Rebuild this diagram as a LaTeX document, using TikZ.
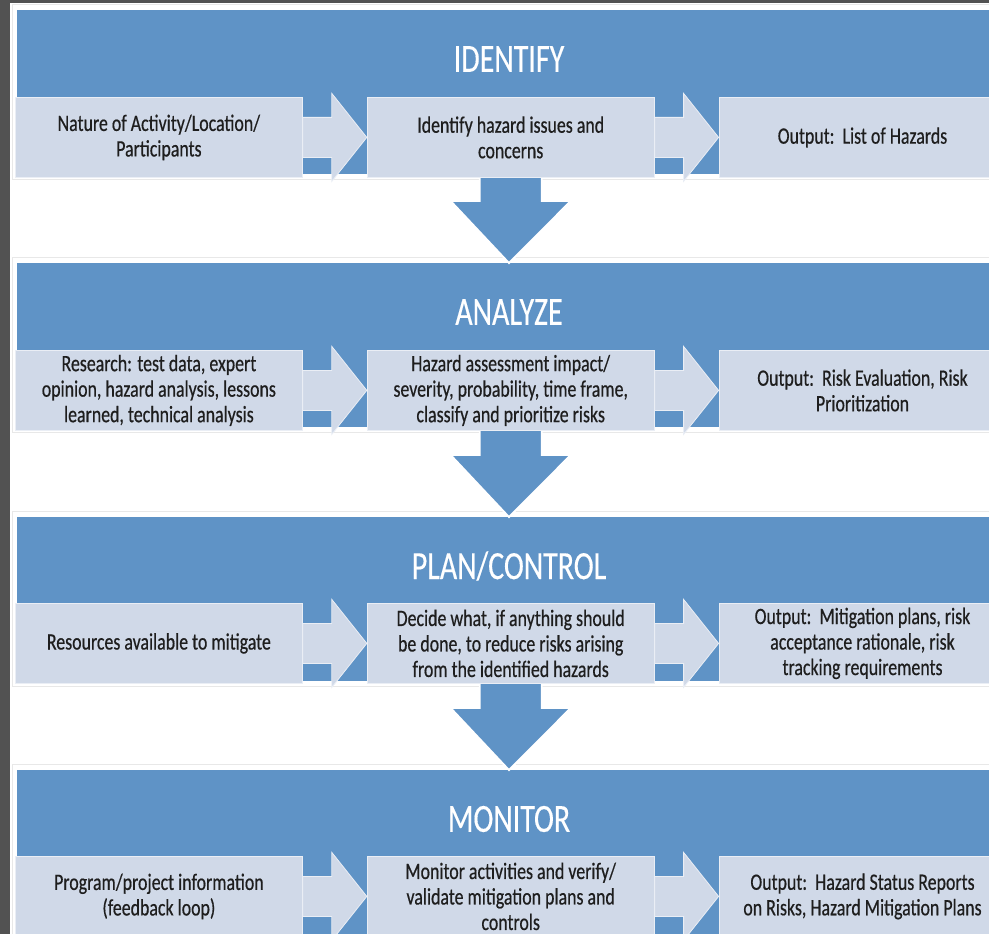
\documentclass[tikz,border=0pt]{standalone}
\usepackage{fontspec}
\setmainfont{Carlito}
\newfontfamily\boxfont[FakeStretch=0.76,FakeBold=0.5]{Carlito}
\newfontfamily\titlefont[FakeStretch=0.75,FakeBold=0.3]{Carlito}
\usetikzlibrary{positioning,calc}
\definecolor{bandblue}{RGB}{95,147,198}
\definecolor{boxgray}{RGB}{208,217,232}
\definecolor{textdark}{RGB}{30,30,30}
\definecolor{edgegray}{RGB}{82,82,82}
\pgfdeclarelayer{panels}
\pgfdeclarelayer{arrows}
\pgfsetlayers{panels,arrows,main}

\begin{document}
\begin{tikzpicture}[x=1pt,y=-1pt]
		\tikzset{
			band/.style={fill=bandblue},
			stepbox/.style={fill=boxgray, draw=white!55!boxgray, line width=0.8pt,
				minimum width=287pt, minimum height=80pt, inner sep=0pt, align=center,
				text=textdark, font=\boxfont\fontsize{23.5}{25.5}\selectfont},
			steptitle/.style={text=white, font=\titlefont\fontsize{40}{40}\selectfont},
			blockarrow/.style={fill=boxgray, draw=white!55!boxgray, line width=0.8pt},
			downarrow/.style={fill=bandblue, draw=white, line width=1.8pt}
		}
		\clip (0,0) rectangle (989,934);
		% the four stages
		\begin{pgfonlayer}{panels}
		\fill[edgegray] (0,0) rectangle (989,934);
		\fill[white] (10,3) rectangle (989,934);
		\foreach \y/\t [count=\k] in {10/IDENTIFY,263/ANALYZE,517/{PLAN/CONTROL},770/MONITOR}{
			\draw[black!9, fill=white] (12,\y-6) rectangle (995,\y+169);
			\fill[band] (17,\y) rectangle (995,\y+164);
			\node[steptitle] (t\k) at (509,\y+49) {\t};
			\coordinate (top\k) at (509,\y);
		}
		\end{pgfonlayer}
		% IDENTIFY
		\node[stepbox, anchor=north west] (id1) at (15,97) {Nature of Activity/Location/\\Participants};
		\node[stepbox, right=64pt of id1] (id2) {Identify hazard issues and\\concerns};
		\node[stepbox, right=64pt of id2] (id3) {Output:\ \ List of Hazards};
		% ANALYZE
		\node[stepbox, anchor=north west] (an1) at (15,350) {Research: test data, expert\\opinion, hazard analysis, lessons\\learned, technical analysis};
		\node[stepbox, right=64pt of an1] (an2) {Hazard assessment impact/\\severity, probability, time frame,\\classify and prioritize risks};
		\node[stepbox, right=64pt of an2] (an3) {Output:\ \ Risk Evaluation, Risk\\Prioritization};
		% PLAN/CONTROL
		\node[stepbox, anchor=north west] (pc1) at (15,603) {Resources available to mitigate};
		\node[stepbox, right=64pt of pc1] (pc2) {Decide what, if anything should\\be done, to reduce risks arising\\from the identified hazards};
		\node[stepbox, right=64pt of pc2] (pc3) {Output:\ \ Mitigation plans, risk\\acceptance rationale, risk\\tracking requirements};
		% MONITOR
		\node[stepbox, anchor=north west] (mo1) at (15,856) {Program/project information\\(feedback loop)};
		\node[stepbox, right=64pt of mo1] (mo2) {Monitor activities and verify/\\validate mitigation plans and\\controls};
		\node[stepbox, right=64pt of mo2] (mo3) {Output:\ \ Hazard Status Reports\\on Risks, Hazard Mitigation Plans};
		% arrows
		\begin{pgfonlayer}{arrows}
		\foreach \a/\b in {id1/id2,id2/id3,an1/an2,an2/an3,pc1/pc2,pc2/pc3,mo1/mo2,mo2/mo3}{
			\draw[blockarrow] let \p1=(\a.east), \p2=(\b.west) in
				(\x1,\y1+20) -- (\x2-35,\y1+20) -- (\x2-35,\y1+44) -- (\x2,\y1)
				-- (\x2-35,\y1-44) -- (\x2-35,\y1-20) -- (\x1,\y1-20) -- cycle;
		}
		\foreach \a/\b in {id2/top2,an2/top3,pc2/top4}{
			\draw[downarrow] let \p1=(\a.south), \p2=(\b) in
				(\x1-31,\y1+8) -- (\x1-31,\y2+62) -- (\x1-60,\y2+62) -- (\x2,\y2)
				-- (\x1+60,\y2+62) -- (\x1+31,\y2+62) -- (\x1+31,\y1+8) -- cycle;
		}
		\end{pgfonlayer}
\end{tikzpicture}
\end{document}
